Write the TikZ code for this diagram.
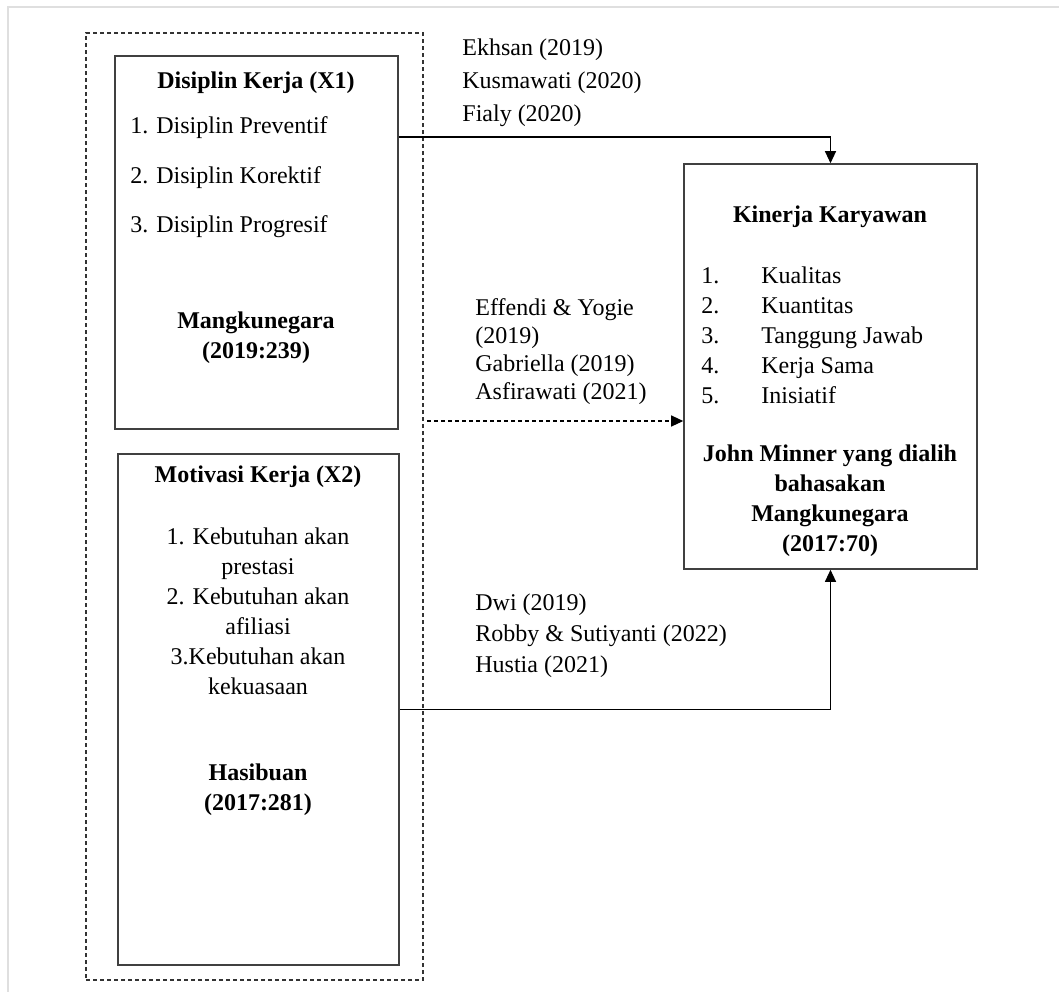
\documentclass[tikz,border=0pt]{standalone}
\usepackage{fontspec}
\setmainfont{Liberation Serif}
\usetikzlibrary{arrows.meta, positioning, calc}
\tikzset{
  varbox/.style={
    rectangle, draw=black!75, line width=0.8pt, inner sep=0pt
  },
  groupbox/.style={rectangle, draw=black!80, dash pattern=on 2pt off 1.5pt, line width=0.6pt, inner sep=0pt},
  boxtitle/.style={font=\fontsize{12}{15}\selectfont\bfseries, align=center, inner sep=0pt},
  itemtext/.style={font=\fontsize{12}{15}\selectfont, align=left, inner sep=0pt},
  refnote/.style={itemtext, anchor=west},
  edge/.style={-{Triangle[length=6pt,width=5.5pt]}, line width=0.6pt},
  dedge/.style={edge, dash pattern=on 2pt off 1.5pt}
}
\newcommand{\kitem}[2]{\makebox[30pt][l]{#1}#2}

\begin{document}
\begin{tikzpicture}[x=0.5pt, y=-0.5pt]
    \useasboundingbox (0,0) rectangle (1059,992);
    % page frame
    \draw[gray!25, line width=0.6pt] (1059,7) -- (8,7) -- (8,992);
    % boxes
    \node[groupbox, minimum width=168.5pt, minimum height=473.5pt] (grp) at (254.5,506.5) {};
    \node[varbox, minimum width=141.5pt, minimum height=186.5pt] (dis) at (256.5,242.5) {};
    \node[varbox, minimum width=140.5pt, minimum height=255.5pt] (mot) at (258.5,709.5) {};
    \node[varbox, minimum width=146.5pt, minimum height=202.5pt] (kin) at (830.5,366.5) {};
    % X1
    \node[boxtitle] (disT) at (256,83) {Disiplin Kerja (X1)};
    \node[itemtext, anchor=west, font=\fontsize{12}{24.75}\selectfont] (disI) at (130,177.5) {1. Disiplin Preventif\\2. Disiplin Korektif\\3. Disiplin Progresif};
    \node[boxtitle] (disR) at (256,338) {Mangkunegara\\(2019:239)};
    % X2
    \node[boxtitle] (motT) at (258,477) {Motivasi Kerja (X2)};
    \node[itemtext, align=center] (motI) at (258,611) {1. Kebutuhan akan\\prestasi\\2. Kebutuhan akan\\afiliasi\\3.Kebutuhan akan\\kekuasaan};
    \node[boxtitle] (motR) at (258,790) {Hasibuan\\(2017:281)};
    % Y
    \node[boxtitle] (kinT) at (830,217) {Kinerja Karyawan};
    \node[itemtext, anchor=west] (kinI) at (701,335.5) {\kitem{1.}{Kualitas}\\\kitem{2.}{Kuantitas}\\\kitem{3.}{Tanggung Jawab}\\\kitem{4.}{Kerja Sama}\\\kitem{5.}{Inisiatif}};
    \node[boxtitle] (kinR) at (830,500.5) {John Minner yang dialih\\bahasakan\\Mangkunegara\\(2017:70)};
    % references
    \node[refnote, font=\fontsize{12}{16.5}\selectfont] (ref1) at (462,83) {Ekhsan (2019)\\Kusmawati (2020)\\Fialy (2020)};
    \node[refnote, font=\fontsize{12}{14}\selectfont] (ref2) at (475,352) {Effendi \& Yogie\\(2019)\\Gabriella (2019)\\Asfirawati (2021)};
    \node[refnote, font=\fontsize{12}{15.5}\selectfont] (ref3) at (475,636) {Dwi (2019)\\Robby \& Sutiyanti (2022)\\Hustia (2021)};
    % connectors
    \draw[edge] ([yshift=52.75pt]dis.east) -| (kin.north);
    \coordinate (dstart) at (427,421);
    \draw[dedge] (dstart) -- (dstart -| kin.west);
    \draw[edge] (mot.east) -| (kin.south);
\end{tikzpicture}
\end{document}
